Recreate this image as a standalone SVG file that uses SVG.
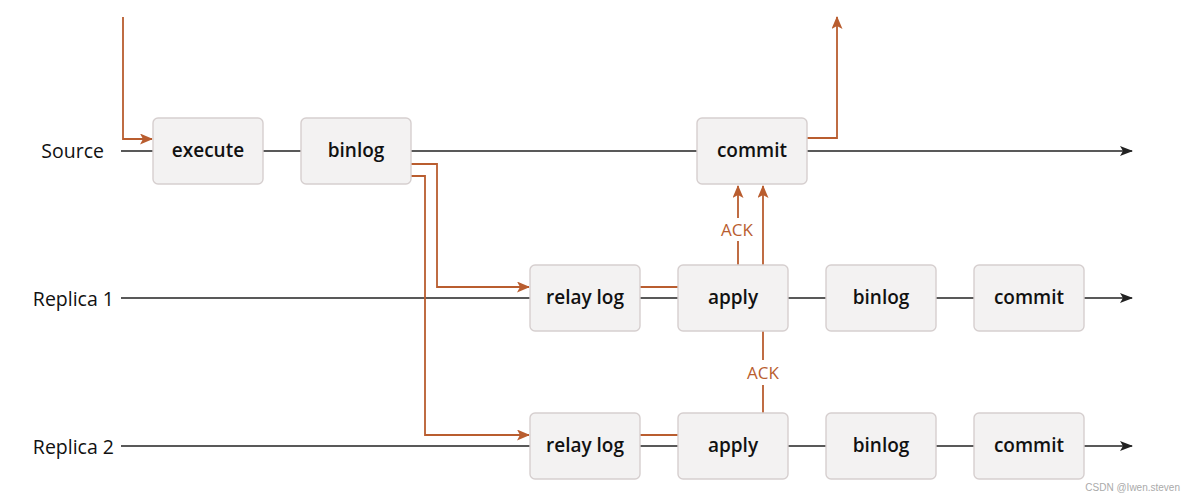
<svg xmlns="http://www.w3.org/2000/svg" width="1184" height="499" viewBox="0 0 1184 499">
<style>
.box{fill:#f3f2f2;stroke:#d6cfcf;stroke-width:1.4}
.t{font-family:"Open Sans","Noto Sans",sans-serif;font-size:19px;font-weight:600;fill:#111;text-anchor:middle;dominant-baseline:central}
.lbl{font-family:"Open Sans","Noto Sans",sans-serif;font-size:19.5px;font-weight:400;fill:#111;text-anchor:end;dominant-baseline:central}
.ack{font-family:"Open Sans","Noto Sans",sans-serif;font-size:17px;font-weight:400;fill:#b95d2f;text-anchor:middle;dominant-baseline:central}
.bl{stroke:#222;stroke-width:1.6;fill:none}
.or{stroke:#b95d2f;stroke-width:1.8;fill:none}
</style>
<defs>
<marker id="ab" viewBox="0 0 13 10" refX="12" refY="5" markerWidth="13" markerHeight="10" markerUnits="userSpaceOnUse" orient="auto">
<path d="M0,0 L13,5 L0,10 L3,5 Z" fill="#222"/>
</marker>
<marker id="ao" viewBox="0 0 13 11" refX="12" refY="5.5" markerWidth="13" markerHeight="11" markerUnits="userSpaceOnUse" orient="auto">
<path d="M0,0 L13,5.5 L0,11 L3,5.5 Z" fill="#b95d2f"/>
</marker>
</defs>
<rect width="1184" height="499" fill="#ffffff"/>
<g id="connectors">
<line class="bl" x1="121" y1="151" x2="1132" y2="151" marker-end="url(#ab)"/>
<line class="bl" x1="121" y1="298" x2="1132" y2="298" marker-end="url(#ab)"/>
<line class="bl" x1="121" y1="446" x2="1132" y2="446" marker-end="url(#ab)"/>
<polyline class="or" points="123,17 123,139 152,139" marker-end="url(#ao)"/>
<polyline class="or" points="411,164 437,164 437,287 529,287" marker-end="url(#ao)"/>
<polyline class="or" points="411,176 425,176 425,435 529,435" marker-end="url(#ao)"/>
<line class="or" x1="640" y1="287" x2="678" y2="287"/>
<line class="or" x1="640" y1="435" x2="678" y2="435"/>
<polyline class="or" points="807,138 837,138 837,17" marker-end="url(#ao)"/>
<line class="or" x1="738" y1="218" x2="738" y2="186" marker-end="url(#ao)"/>
<line class="or" x1="738" y1="265" x2="738" y2="241"/>
<line class="or" x1="763" y1="360" x2="763" y2="186" marker-end="url(#ao)"/>
<line class="or" x1="763" y1="413" x2="763" y2="385"/>
</g>
<g id="labels">
<text class="lbl" x="104" y="150">Source</text>
<text class="lbl" x="114" y="298">Replica 1</text>
<text class="lbl" x="114" y="446">Replica 2</text>
<text class="ack" x="737" y="229">ACK</text>
<text class="ack" x="763" y="372">ACK</text>
</g>
<g id="execute"><rect class="box" x="153" y="118" width="110" height="66" rx="5"/><text class="t" x="208" y="150">execute</text></g>
<g id="binlog-src"><rect class="box" x="301" y="118" width="110" height="66" rx="5"/><text class="t" x="356" y="150">binlog</text></g>
<g id="commit-src"><rect class="box" x="697" y="118" width="110" height="66" rx="5"/><text class="t" x="752" y="150">commit</text></g>
<g id="relay1"><rect class="box" x="530" y="265" width="110" height="66" rx="5"/><text class="t" x="585" y="297">relay log</text></g>
<g id="apply1"><rect class="box" x="678" y="265" width="110" height="66" rx="5"/><text class="t" x="733" y="297">apply</text></g>
<g id="binlog1"><rect class="box" x="826" y="265" width="110" height="66" rx="5"/><text class="t" x="881" y="297">binlog</text></g>
<g id="commit1"><rect class="box" x="974" y="265" width="110" height="66" rx="5"/><text class="t" x="1029" y="297">commit</text></g>
<g id="relay2"><rect class="box" x="530" y="413" width="110" height="66" rx="5"/><text class="t" x="585" y="445">relay log</text></g>
<g id="apply2"><rect class="box" x="678" y="413" width="110" height="66" rx="5"/><text class="t" x="733" y="445">apply</text></g>
<g id="binlog2"><rect class="box" x="826" y="413" width="110" height="66" rx="5"/><text class="t" x="881" y="445">binlog</text></g>
<g id="commit2"><rect class="box" x="974" y="413" width="110" height="66" rx="5"/><text class="t" x="1029" y="445">commit</text></g>
<text x="1180" y="491" font-family="Liberation Sans, sans-serif" font-size="10" fill="#aaaaaa" text-anchor="end">CSDN @Iwen.steven</text>
</svg>
